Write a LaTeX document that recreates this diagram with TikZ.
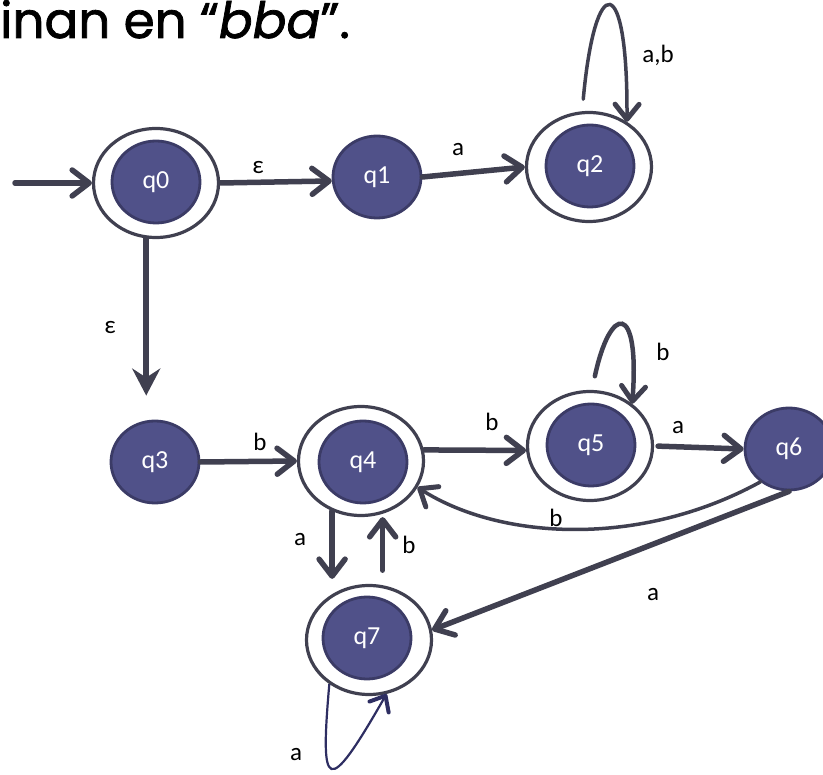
\documentclass[tikz,border=0pt]{standalone}
\usepackage{fontspec}
\setmainfont{Carlito}
\newfontfamily\titlefont{Poppins}[FakeBold=1.5]
\usetikzlibrary{arrows.meta,shapes.geometric}
\definecolor{statefill}{RGB}{80,81,137}
\definecolor{stateline}{RGB}{59,59,102}
\definecolor{edgecol}{RGB}{64,64,80}
\definecolor{loopnavy}{RGB}{46,46,98}
\tikzset{
  state/.style={ellipse, fill=statefill, draw=stateline, line width=2.8pt,
    minimum width=88pt, minimum height=82pt, inner sep=0pt, text=white,
    font=\fontsize{26}{30}\selectfont},
  ring/.style={ellipse, draw=edgecol, line width=3.2pt,
    minimum width=125pt, minimum height=109pt, inner sep=0pt},
  lab/.style={font=\fontsize{25}{29}\selectfont, inner sep=0pt},
  arr/.style={draw=edgecol, line width=5.5pt, line cap=round,
    -{Straight Barb[length=17pt,width=26pt,round]}},
  loopline/.style={draw=edgecol, line width=3.5pt, line cap=round,
    -{Straight Barb[length=15pt,width=24pt,line width=5pt,round]}},
}
\begin{document}
\begin{tikzpicture}[x=1pt,y=-1pt]
    \useasboundingbox (0,0) rectangle (823,775);
    \node[anchor=base west, inner sep=0pt] (title) at (0,38)
        {\titlefont\fontsize{50}{56}\selectfont inan en “\textit{bba}”.};

    % accepting states: outer ring + filled core
    \node[ring] (q0) at (156,183) {};
    \node[state] (q0c) at (156,182) {q0};
    \node[state] (q1) at (377,177) {q1};
    \node[ring] (q2) at (589,167) {};
    \node[state] (q2c) at (590,166) {q2};
    \node[state] (q3) at (155,462) {q3};
    \node[ring] (q4) at (361,461) {};
    \node[state] (q4c) at (363,462) {q4};
    \node[ring] (q5) at (590,446) {};
    \node[state] (q5c) at (591,445) {q5};
    \node[state] (q6) at (789,449) {q6};
    \node[ring] (q7) at (369,640) {};
    \node[state] (q7c) at (367,638) {q7};
    \coordinate (start) at (15,183);

    % transitions
    \draw[arr] (start) -- (q0.west);
    \draw[arr] (q0.east) -- (q1.185);
    \draw[arr] (q1.east) -- (q2.west);
    \draw[arr, -{Stealth[length=27pt,width=28pt,inset=9pt]}, shorten >=24pt]
        (q0.260) -- (q0.260 |- q3.north);
    \draw[arr] (q3.east) -- (q4.west);
    \draw[arr] (q4.10) -- (q5.184);
    \draw[arr, shorten <=4pt] (q5.east) -- (q6.west);
    \draw[arr] (q6.south) -- (q7.9);
    \draw[arr, shorten >=5pt] (q4.240) -- (q4.240 |- q7.north);
    \draw[arr, shorten <=15pt] (q7.76) -- (q7.76 |- q4.south);
    \draw[loopline] (q6.229) .. controls (640,548) and (500,540) .. (q4.-25);

    % loops
    \draw[loopline, shorten <=12pt] (q2.97) .. controls (595,-30) and (628,-30) .. (q2.50);
    \draw[loopline, line width=4.5pt, shorten <=14pt] (q5.88) .. controls (610,305) and (640,300) .. (q5.45);
    \draw[draw=loopnavy, line width=2.2pt, -{Straight Barb[length=13pt,width=22pt,line width=4pt,round]}]
        (q7.228) .. controls (320,790) and (326,800) .. (q7.-72);

    % labels
    \node[lab] (e01) at (258,168) {ε};
    \node[lab] (e12) at (458,150) {a};
    \node[lab] (e22) at (658,55) {a,b};
    \node[lab] (e03) at (110,328) {ε};
    \node[lab] (e34) at (260,442) {b};
    \node[lab] (e45) at (492,422) {b};
    \node[lab] (e55) at (663,352) {b};
    \node[lab] (e56) at (678,428) {a};
    \node[lab] (e64) at (556,518) {b};
    \node[lab] (e67) at (653,595) {a};
    \node[lab] (e47) at (300,540) {a};
    \node[lab] (e74) at (409,545) {b};
    \node[lab] (e77) at (296,755) {a};
\end{tikzpicture}
\end{document}
